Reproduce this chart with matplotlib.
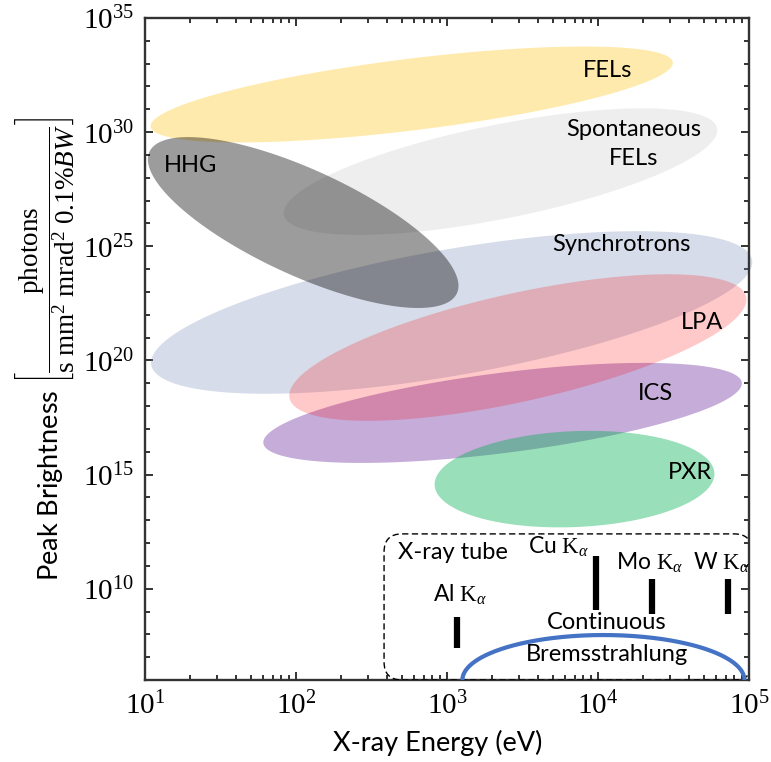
import numpy as np
import matplotlib
matplotlib.use("Agg")
import matplotlib.pyplot as plt
import matplotlib.transforms as mtransforms
from matplotlib.patches import FancyBboxPatch
from matplotlib.ticker import FixedLocator, NullFormatter, LogLocator

plt.rcParams['mathtext.fontset'] = 'custom'
plt.rcParams['mathtext.rm'] = 'Liberation Serif'
plt.rcParams['mathtext.it'] = 'Liberation Serif:italic'
plt.rcParams['mathtext.bf'] = 'Liberation Serif:bold'
plt.rcParams['font.family'] = ['Lato', 'DejaVu Sans']

# ---------------- data ----------------
sources = ["FELs", "Spontaneous\nFELs", "Synchrotrons", "HHG", "ICS", "LPA", "PXR"]
# energy range (eV) of each region (left / right end of the major axis)
e_left = [10.9, 83.2, 11.0, 10.7, 60.8, 90.6, 828]
e_right = [31300, 61500, 104800, 1163, 89600, 95700, 59000]
# peak brightness (log10) at the left / right end
b_left = [30.24, 26.37, 19.80, 29.14, 16.37, 18.34, 14.54]
b_right = [33.06, 30.17, 24.40, 22.94, 19.03, 22.79, 15.06]
# spread (decades of brightness) across the region
b_spread = [3.14, 4.12, 5.52, 4.62, 3.51, 4.74, 4.20]
colors = ["#FFC000", "#808080", "#788CB9", "#000000", "#7030A0", "#FF0000", "#00B050"]
alphas = [0.32, 0.13, 0.30, 0.39, 0.40, 0.21, 0.40]

# label positions (eV, log10 brightness)
label_e = [11650, 17300, 14200, 19.9, 24200, 48900, 40600]
label_b = [32.68, 29.48, 25.06, 28.52, 18.57, 21.64, 15.11]

# X-ray tube characteristic lines
lines = ["Al", "Cu", "Mo", "W"]
line_e = [1170, 9700, 22800, 72600]
line_b_lo = [7.40, 9.07, 8.89, 8.89]
line_b_hi = [8.76, 11.43, 10.43, 10.43]
line_label_e = [1219, 5520, 21900, 65300]
line_label_b = [9.73, 11.83, 11.13, 11.13]

# continuous Bremsstrahlung
brems_e = [1265, 93300]
brems_b_base = 6.0
brems_b_peak = 7.97

# X-ray tube region frame
tube_e = [383, 105000]
tube_b = [6.0, 12.40]

xticks = [1e1, 1e2, 1e3, 1e4, 1e5]
yticks_major = [1e10, 1e15, 1e20, 1e25, 1e30, 1e35]
yticks_minor = [10.0 ** k for k in range(6, 36)]

# ---------------- figure ----------------
fig = plt.figure(figsize=(7.71, 7.62), dpi=100)
ax = fig.add_axes([145 / 771, 1 - 680 / 762, 604 / 771, 662 / 762])
ax.set_xscale('log')
ax.set_yscale('log')
ax.set_xlim(1e1, 1e5)
ax.set_ylim(1e6, 1e35)

spine_col = '#333333'
for s in ax.spines.values():
    s.set_linewidth(1.7)
    s.set_color(spine_col)

ax.xaxis.set_major_locator(FixedLocator(xticks))
ax.xaxis.set_minor_locator(LogLocator(base=10, subs=np.arange(2, 10)))
ax.xaxis.set_minor_formatter(NullFormatter())
ax.yaxis.set_major_locator(FixedLocator(yticks_major))
ax.yaxis.set_minor_locator(FixedLocator(yticks_minor))
ax.yaxis.set_minor_formatter(NullFormatter())
ax.set_xticklabels([r'$10^{%d}$' % int(np.log10(v)) for v in xticks])
ax.set_yticklabels([r'$10^{%d}$' % int(np.log10(v)) for v in yticks_major])
ax.tick_params(which='both', direction='in', top=True, right=True, color=spine_col, width=1.4)
ax.tick_params(which='major', length=6, labelsize=21, pad=8)
ax.tick_params(which='minor', length=3.5)


def ellipse_points(e0, e1, lb0, lb1, spread, t0=0.0, t1=2 * np.pi, n=300):
    p0 = ax.transData.transform((e0, 10 ** lb0))
    p1 = ax.transData.transform((e1, 10 ** lb1))
    c = (p0 + p1) / 2
    d = p1 - p0
    a = np.hypot(d[0], d[1]) / 2
    ang = np.arctan2(d[1], d[0])
    ppd = ax.transData.transform((1, 1e7))[1] - ax.transData.transform((1, 1e6))[1]
    b = spread * ppd / 2
    t = np.linspace(t0, t1, n)
    x = a * np.cos(t)
    y = b * np.sin(t)
    pts = np.column_stack([c[0] + x * np.cos(ang) - y * np.sin(ang),
                           c[1] + x * np.sin(ang) + y * np.cos(ang)])
    return ax.transData.inverted().transform(pts)


for i in range(len(sources)):
    pts = ellipse_points(e_left[i], e_right[i], b_left[i], b_right[i], b_spread[i])
    ax.fill(pts[:, 0], pts[:, 1], color=colors[i], alpha=alphas[i], lw=0, clip_on=False, zorder=2 + i * 0.1)
    ax.text(label_e[i], 10 ** label_b[i], sources[i], ha='center', va='center',
            fontsize=17, zorder=5, linespacing=1.5)

# X-ray tube frame
p0 = ax.transData.transform((tube_e[0], 10 ** tube_b[0]))
p1 = ax.transData.transform((tube_e[1], 10 ** tube_b[1]))
box = FancyBboxPatch((p0[0], p0[1]), p1[0] - p0[0], p1[1] - p0[1],
                     boxstyle="round,pad=0,rounding_size=18",
                     transform=mtransforms.IdentityTransform(),
                     fill=False, ec='black', lw=1.0, ls=(0, (4.5, 2.5)), zorder=4)
box.set_clip_path(ax.patch)
ax.add_artist(box)
ax.text(1097, 10 ** 11.57, "X-ray tube", ha='center', va='center', fontsize=17, zorder=5)

# characteristic lines
ax.vlines(line_e, [10 ** v for v in line_b_lo], [10 ** v for v in line_b_hi],
          color='black', lw=4.5, zorder=5, capstyle='butt')
for i in range(len(lines)):
    ax.text(line_label_e[i], 10 ** line_label_b[i], lines[i] + r' $\mathrm{K}_{\alpha}$',
            ha='center', va='center', fontsize=16.5, zorder=5)

# Bremsstrahlung arc
pts = ellipse_points(brems_e[0], brems_e[1], brems_b_base, brems_b_base,
                     2 * (brems_b_peak - brems_b_base), 0, np.pi)
ax.plot(pts[:, 0], pts[:, 1], color='#4472C4', lw=3.0, zorder=6, solid_capstyle='butt')
ax.text(11480, 10 ** 8.54, "Continuous", ha='center', va='center', fontsize=17, zorder=5)
ax.text(11480, 10 ** 7.10, "Bremsstrahlung", ha='center', va='center', fontsize=17, zorder=5)

ax.set_xlabel("X-ray Energy (eV)", fontsize=19.5, labelpad=5)
ax.xaxis.set_label_coords(0.484, -0.075)
ax.set_ylabel(r"Peak Brightness $\left[\dfrac{\mathrm{photons}}{\mathrm{s\ mm^2\ mrad^2\ 0.1\%}BW}\right]$",
              fontsize=19.5, labelpad=4)

fig.savefig("out.png", dpi=100)
